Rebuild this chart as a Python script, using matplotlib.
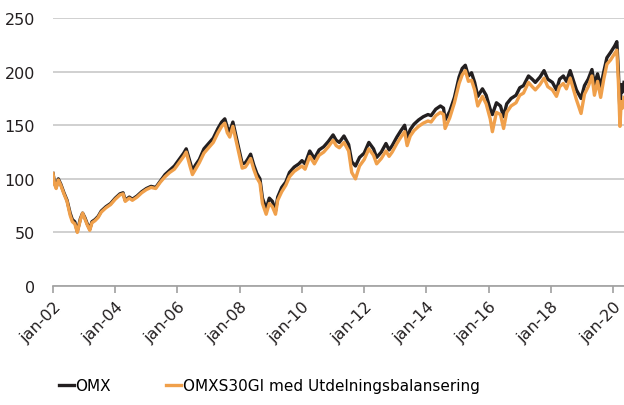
import numpy as np
import matplotlib
matplotlib.use("Agg")
import matplotlib.pyplot as plt

# tid i decimala år
years = [2002.00, 2002.05, 2002.10, 2002.17, 2002.25, 2002.35, 2002.45, 2002.55, 2002.62, 2002.70,
         2002.78, 2002.88, 2002.95, 2003.02, 2003.10, 2003.18, 2003.25, 2003.35, 2003.45, 2003.55,
         2003.70, 2003.85, 2004.00, 2004.15, 2004.25, 2004.32, 2004.45, 2004.55, 2004.70, 2004.85,
         2005.00, 2005.15, 2005.30, 2005.45, 2005.60, 2005.75, 2005.90, 2006.05, 2006.20, 2006.28,
         2006.40, 2006.48, 2006.58, 2006.70, 2006.85, 2007.00, 2007.15, 2007.30, 2007.42, 2007.52,
         2007.60, 2007.68, 2007.78, 2007.88, 2007.97, 2008.08, 2008.18, 2008.25, 2008.35, 2008.45,
         2008.55, 2008.65, 2008.73, 2008.85, 2008.95, 2009.05, 2009.15, 2009.22, 2009.35, 2009.48,
         2009.60, 2009.75, 2009.90, 2010.00, 2010.10, 2010.25, 2010.40, 2010.55, 2010.70, 2010.85,
         2011.00, 2011.10, 2011.20, 2011.35, 2011.50, 2011.60, 2011.72, 2011.85, 2012.00, 2012.15,
         2012.30, 2012.40, 2012.55, 2012.70, 2012.80, 2012.90, 2013.05, 2013.18, 2013.30, 2013.38,
         2013.48, 2013.60, 2013.75, 2013.90, 2014.05, 2014.15, 2014.30, 2014.45, 2014.55, 2014.60,
         2014.75, 2014.90, 2015.05, 2015.15, 2015.25, 2015.35, 2015.45, 2015.55, 2015.65, 2015.80,
         2015.92, 2016.05, 2016.12, 2016.25, 2016.38, 2016.48, 2016.58, 2016.72, 2016.88, 2017.00,
         2017.12, 2017.28, 2017.40, 2017.50, 2017.65, 2017.78, 2017.90, 2018.05, 2018.18, 2018.28,
         2018.40, 2018.50, 2018.62, 2018.72, 2018.82, 2018.97, 2019.08, 2019.20, 2019.32, 2019.40,
         2019.50, 2019.60, 2019.70, 2019.80, 2019.92, 2020.05, 2020.12, 2020.17, 2020.22, 2020.26,
         2020.30, 2020.35]

omx = [105, 96, 92, 100, 95, 87, 80, 68, 62, 60,
       51, 63, 68, 64, 58, 53, 60, 62, 65, 70,
       74, 77, 82, 86, 87, 80, 83, 81, 84, 88,
       91, 93, 92, 98, 104, 108, 112, 118, 124, 128,
       116, 108, 113, 118, 128, 133, 138, 147, 153, 156,
       148, 144, 153, 140, 128, 114, 115, 118, 123, 113,
       105, 100, 82, 72, 82, 79, 70, 83, 92, 97,
       106, 111, 114, 117, 114, 126, 119, 127, 130, 135,
       141, 136, 134, 140, 132, 116, 112, 120, 124, 134,
       128, 120, 125, 133, 127, 131, 139, 145, 150, 138,
       146, 151, 155, 158, 160, 159, 165, 168, 166, 155,
       163, 176, 195, 203, 206, 196, 199, 190, 177, 184,
       178, 165, 160, 171, 168, 158, 170, 175, 178, 185,
       187, 196, 193, 190, 195, 201, 193, 190, 183, 193,
       196, 191, 201, 192, 183, 175, 187, 193, 202, 188,
       198, 186, 200, 213, 218, 224, 228, 200, 162, 188,
       181, 190]

omxs30gi = [105, 95, 91, 99, 94, 86, 79, 66, 60, 58,
            50, 62, 68, 63, 57, 52, 59, 61, 64, 69,
            73, 76, 81, 85, 86, 79, 82, 80, 83, 87,
            90, 92, 91, 97, 102, 106, 109, 115, 121, 125,
            112, 104, 109, 115, 124, 129, 134, 143, 149, 152,
            143, 139, 149, 136, 124, 110, 111, 114, 119, 109,
            101, 96, 77, 67, 77, 74, 67, 80, 88, 94,
            102, 107, 110, 112, 109, 121, 114, 122, 125, 130,
            136, 131, 129, 134, 126, 106, 100, 112, 118, 128,
            122, 114, 119, 126, 121, 125, 133, 139, 144, 131,
            140, 145, 149, 152, 154, 153, 159, 162, 160, 147,
            157, 171, 189, 197, 201, 191, 192, 183, 168, 177,
            170, 156, 144, 162, 160, 147, 162, 168, 171, 178,
            180, 190, 186, 183, 188, 194, 186, 183, 177, 186,
            189, 184, 194, 184, 174, 161, 179, 186, 196, 178,
            191, 176, 193, 207, 211, 217, 220, 190, 149, 172,
            166, 176]

tick_years = [2002, 2004, 2006, 2008, 2010, 2012, 2014, 2016, 2018, 2020]
tick_labels = ["jan-02", "jan-04", "jan-06", "jan-08", "jan-10",
               "jan-12", "jan-14", "jan-16", "jan-18", "jan-20"]

plt.rcParams['font.family'] = ['DejaVu Sans']

fig = plt.figure(figsize=(6.24, 4.06), dpi=100)
ax = fig.add_axes([0.085, 0.293, 0.915, 0.660])

ax.plot(years, omx, color="#231f20", linewidth=2.4, label="OMX")
ax.plot(years, omxs30gi, color="#f0a04b", linewidth=2.4, label="OMXS30GI med Utdelningsbalansering")

ax.set_xlim(2002.0, 2020.35)
ax.set_ylim(0, 250)
ax.set_yticks([0, 50, 100, 150, 200, 250])
ax.set_xticks(tick_years)
ax.set_xticklabels(tick_labels, rotation=45, ha="right", rotation_mode="anchor")
ax.grid(axis="y", color="#d0d0d0", linewidth=1.4)
ax.set_axisbelow(True)

for s in ["top", "right", "left"]:
    ax.spines[s].set_visible(False)
ax.spines["bottom"].set_color("#a0a0a0")
ax.spines["bottom"].set_linewidth(1.2)
ax.tick_params(axis="y", length=0, labelsize=11.5, colors="#231f20", pad=13)
ax.tick_params(axis="x", length=5, width=1.2, color="#a0a0a0", labelsize=11.5, labelcolor="#231f20", pad=4)

fig.legend(loc="lower left", bbox_to_anchor=(0.072, -0.005), ncol=2, frameon=False,
           handlelength=1.0, handletextpad=0.1, columnspacing=3.6, fontsize=11)

fig.savefig("out.png", dpi=100)
